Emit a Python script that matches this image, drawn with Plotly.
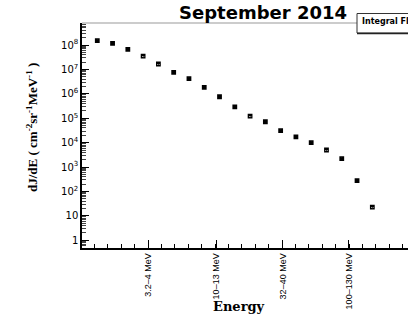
import plotly.graph_objects as go

# Differential flux per energy bin (bin index along x)
bin_index = list(range(1, 20))
flux = [1.5e8, 1.17e8, 6.6e7, 3.5e7, 1.67e7, 7.6e6, 4.2e6, 1.85e6, 7.6e5, 2.95e5,
        1.23e5, 7.2e4, 3.1e4, 1.74e4, 1.0e4, 5.0e3, 2.2e3, 2.8e2, 23]

# Energy band labels on the x axis
energy_tick_pos = [4.32, 8.77, 13.15, 17.47]
energy_tick_text = ["3.2\u20134 MeV", "10\u201313 MeV", "32\u201340 MeV", "100\u2013130 MeV"]

# Log-axis decade labels
y_tick_vals = [1, 10, 1e2, 1e3, 1e4, 1e5, 1e6, 1e7, 1e8]
y_tick_text = ["1", "10"] + ["10<sup>%d</sup>" % k for k in range(2, 9)]

W, H = 408, 322
L, R, T, B = 82, 0, 23, 74
pw, ph = W - L - R, H - T - B

def px_x(x):
    return (x - L) / pw

def px_y(y):
    return (H - B - y) / ph

fig = go.Figure()
fig.add_trace(go.Scatter(
    x=bin_index, y=flux, mode="markers",
    marker=dict(symbol="square-x-open", size=3.5, color="black",
                line=dict(color="black", width=1.3)),
    showlegend=False, cliponaxis=False,
))

fig.update_layout(
    width=W, height=H,
    margin=dict(l=L, r=R, t=T, b=B),
    paper_bgcolor="white", plot_bgcolor="white",
    title=dict(text="<b>September 2014</b>", x=263 / W, xanchor="center",
               y=1 - 13 / H, yanchor="middle", yref="container",
               font=dict(family="DejaVu Sans", size=18, color="black")),
    xaxis=dict(
        range=[0, pw / 15.28], showgrid=False, zeroline=False,
        showline=True, linecolor="black", linewidth=1.5,
        ticks="inside", ticklen=8, tickwidth=1, tickcolor="black",
        tickvals=energy_tick_pos, ticktext=energy_tick_text, tickangle=-90,
        tickfont=dict(family="Liberation Sans", size=9, color="black"),
        minor=dict(ticks="inside", ticklen=4, tickwidth=1, tickcolor="black",
                   tick0=4.32, dtick=0.877, showgrid=False),
    ),
    yaxis=dict(
        type="log", range=[-0.316, 8.902], showgrid=False, zeroline=False,
        showline=True, linecolor="black", linewidth=1.5,
        ticks="inside", ticklen=7, tickwidth=1, tickcolor="black",
        tickvals=y_tick_vals, ticktext=y_tick_text,
        tickfont=dict(family="DejaVu Sans", size=10, color="black"),
        minor=dict(ticks="inside", ticklen=4, tickwidth=1, tickcolor="#444",
                   dtick="D1", showgrid=False),
    ),
    shapes=[
        # top frame line
        dict(type="line", xref="paper", yref="paper", x0=0, x1=1, y0=1, y1=1,
             line=dict(color="#999", width=1)),
        # legend box, running past the right edge
        dict(type="rect", xref="paper", yref="paper",
             x0=px_x(357), x1=px_x(460), y0=px_y(33), y1=px_y(13.5),
             fillcolor="white", line=dict(color="#333", width=1), layer="above"),
        dict(type="line", xref="paper", yref="paper",
             x0=px_x(357), x1=px_x(460), y0=px_y(33.5), y1=px_y(33.5),
             line=dict(color="#222", width=1.5), layer="above"),
    ],
    annotations=[
        dict(text="<b>Energy</b>", xref="paper", yref="paper",
             x=px_x(239), y=px_y(306), xanchor="center", yanchor="middle",
             showarrow=False, font=dict(family="DejaVu Serif", size=13, color="black")),
        dict(text="<b>dJ/dE ( cm<sup>-2</sup>sr<sup>-1</sup>MeV<sup>-1</sup> )</b>",
             xref="paper", yref="paper", x=px_x(32), y=px_y(128),
             xanchor="center", yanchor="middle", textangle=-90, showarrow=False,
             font=dict(family="Liberation Serif", size=13, color="black")),
        dict(text="<b>Integral Flux</b>", xref="paper", yref="paper",
             x=px_x(360), y=px_y(22), xanchor="left", yanchor="middle",
             showarrow=False, align="left",
             font=dict(family="DejaVu Sans", size=8, color="black")),
    ],
)

fig.write_html("out.html")
